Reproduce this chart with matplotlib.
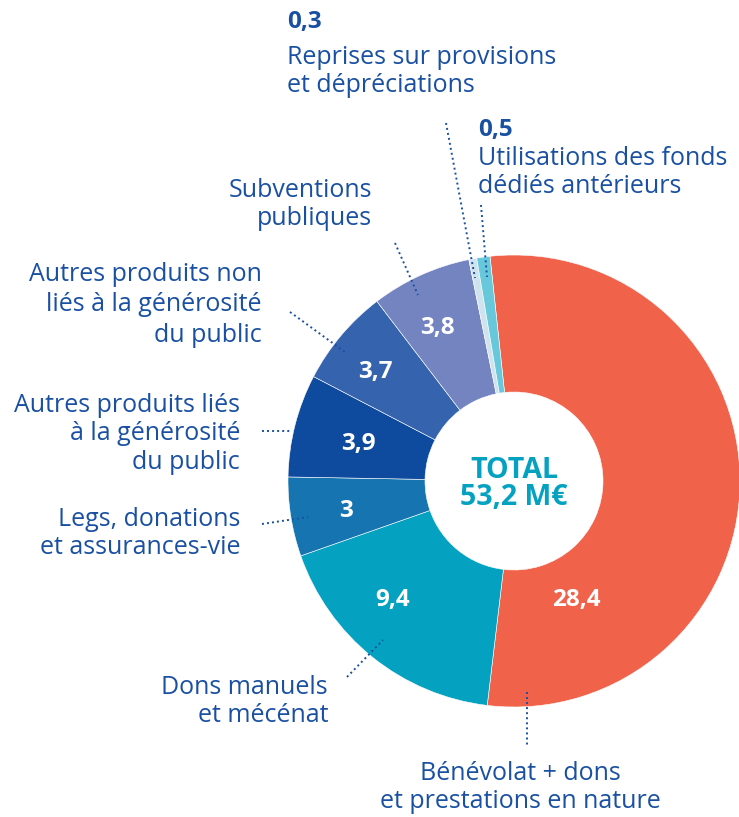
import matplotlib.pyplot as plt

plt.rcParams['font.family'] = ['Open Sans', 'DejaVu Sans']

# données (M€)
valeurs = [28.4, 9.4, 3, 3.9, 3.7, 3.8, 0.3, 0.5]
etiquettes_valeurs = ['28,4', '9,4', '3', '3,9', '3,7', '3,8', '', '']
couleurs = ['#F0624A', '#04A2C0', '#1675B1', '#0E4A9E', '#3663AE',
            '#7384C1', '#CFE3EE', '#66C8DA']
total_txt = 'TOTAL\n53,2 M€'

BLEU = '#1A50A2'
W, H = 739, 817

def Y(y):
    # coordonnées image -> coordonnées axes (y vers le haut)
    return H - y

fig = plt.figure(figsize=(W / 100, H / 100), dpi=100)
ax = fig.add_axes([0, 0, 1, 1])

cx, cy = 514, Y(481)
R, r = 226, 89

ax.pie(valeurs, colors=couleurs, startangle=96.1, counterclock=False,
       center=(cx, cy), radius=R, frame=True,
       wedgeprops=dict(width=R - r, edgecolor='white', linewidth=0.4))
ax.set_xlim(0, W)
ax.set_ylim(0, H)
ax.set_aspect('equal')
ax.axis('off')

# valeurs dans l'anneau
pos_valeurs = [(576, 600), (393, 600), (346, 511), (358, 444), (375, 372), (437, 328)]
for (x, y), t in zip(pos_valeurs, etiquettes_valeurs):
    ax.text(x, Y(y), t, color='white', fontsize=17.5, fontweight='bold',
            ha='center', va='center')

ax.text(cx, Y(484), total_txt, color='#04A2C0', fontsize=20.5, fontweight='bold',
        ha='center', va='center', linespacing=0.92)

# étiquettes extérieures
def bloc(x, y, lignes, ha='right', pas=29):
    for i, l in enumerate(lignes):
        ax.text(x, Y(y + i * pas), l, color=BLEU, fontsize=18, ha=ha, va='center')

ax.text(287, Y(22), '0,3', color=BLEU, fontsize=17.5, fontweight='bold', ha='left', va='center')
bloc(287, 57, ['Reprises sur provisions', 'et dépréciations'], ha='left', pas=28)
ax.text(478, Y(130), '0,5', color=BLEU, fontsize=17.5, fontweight='bold', ha='left', va='center')
bloc(478, 158, ['Utilisations des fonds', 'dédiés antérieurs'], ha='left', pas=28)
bloc(372, 190, ['Subventions', 'publiques'], pas=28)
bloc(262, 274, ['Autres produits non', 'liés à la générosité', 'du public'], pas=30.5)
bloc(240, 405, ['Autres produits liés', 'à la générosité', 'du public'], pas=28.5)
bloc(240, 520, ['Legs, donations', 'et assurances-vie'], pas=28)
bloc(328, 688, ['Dons manuels', 'et mécénat'], pas=28)
bloc(520, 773, ['Bénévolat + dons', 'et prestations en nature'], ha='center', pas=29)

# traits pointillés
traits = [
    ((446, 123), (475, 278)),
    ((481, 205), (487, 277)),
    ((395, 243), (418, 295)),
    ((290, 312), (345, 352)),
    ((262, 431), (292, 431)),
    ((262, 524), (308, 517)),
    ((347, 677), (383, 640)),
    ((527, 692), (527, 746)),
]
for (x0, y0), (x1, y1) in traits:
    ax.plot([x0, x1], [Y(y0), Y(y1)], color=BLEU, lw=1.4, ls=(0, (1, 1.6)))

fig.savefig('out.png', dpi=100)
